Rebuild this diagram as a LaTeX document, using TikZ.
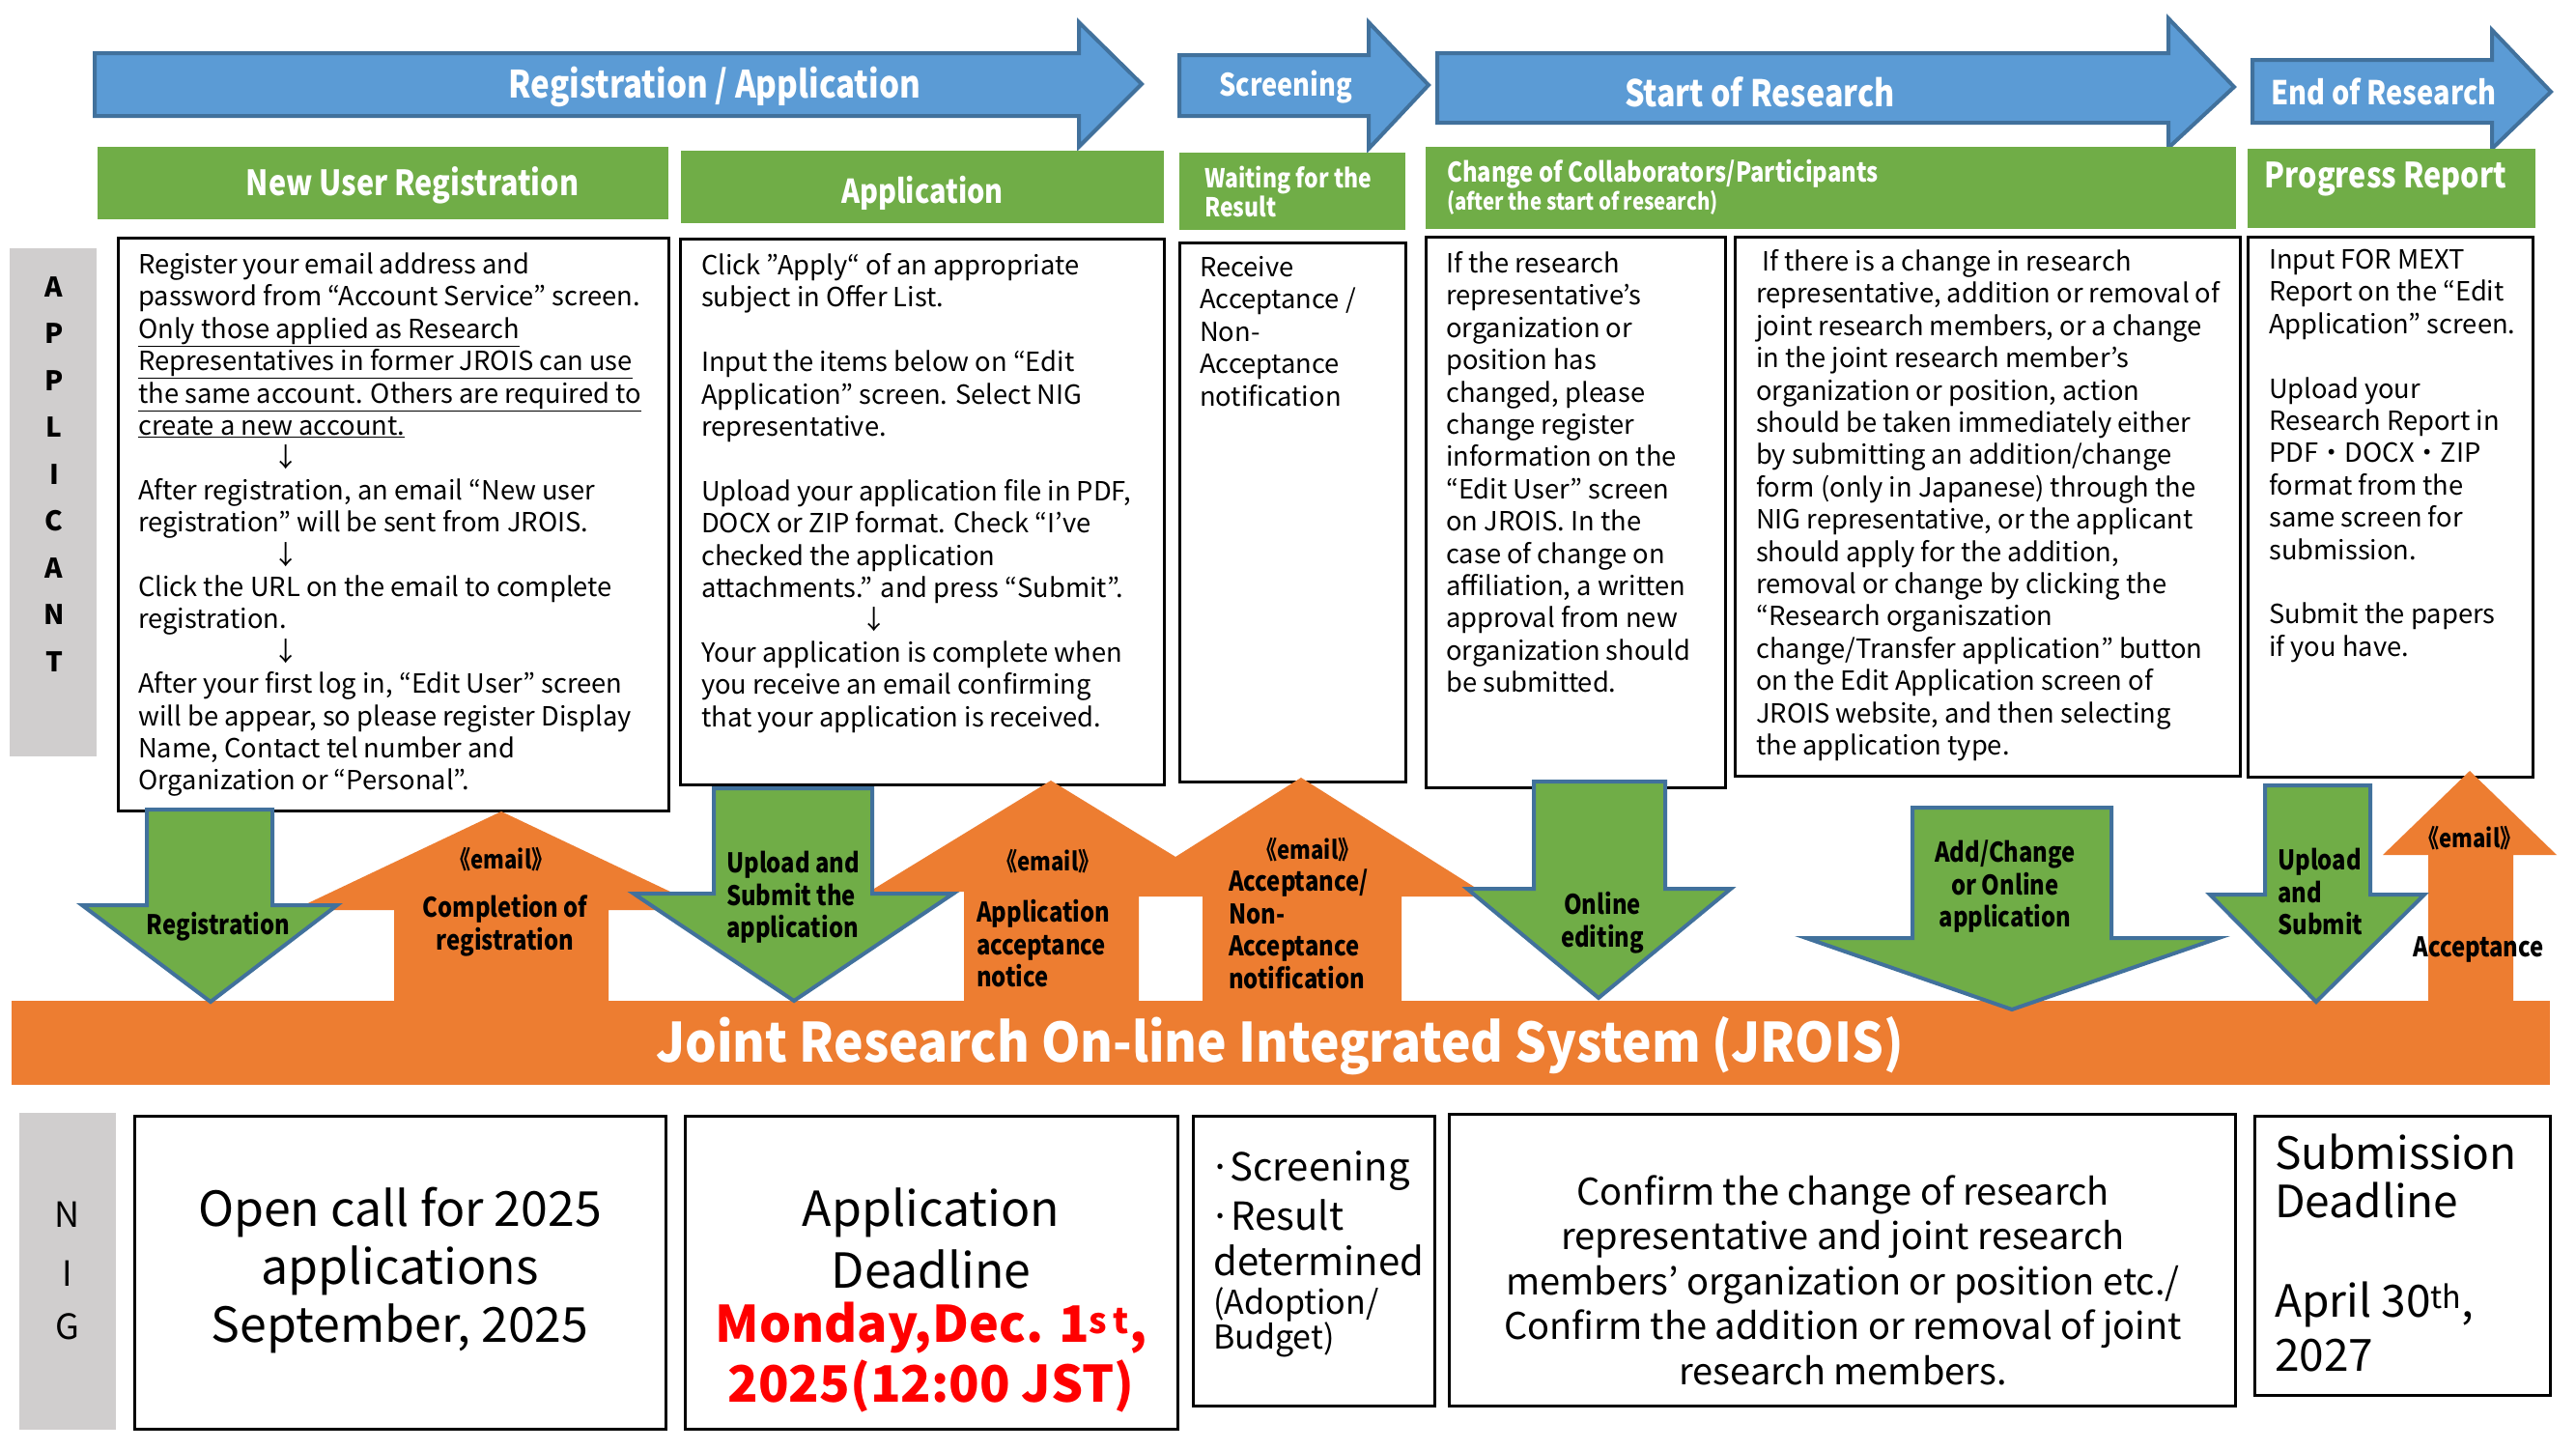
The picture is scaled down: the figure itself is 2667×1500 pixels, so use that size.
\documentclass[tikz,border=0pt]{standalone}
\usepackage{fontspec}
\setmainfont{Noto Sans CJK JP}
\newfontfamily\cond[FakeStretch=0.85]{Noto Sans CJK JP}
\newfontfamily\semi[FakeStretch=0.92]{Noto Sans CJK JP}
\definecolor{ogr}{HTML}{70AD47}
\definecolor{oor}{HTML}{ED7D31}
\definecolor{obl}{HTML}{5B9BD5}
\definecolor{obd}{HTML}{41719C}
\definecolor{grayb}{HTML}{D0CECE}
\definecolor{redt}{HTML}{FF0000}
\newcommand{\fsz}[2]{\fontsize{#1}{#2}\selectfont}
\tikzset{
 tbox/.style={draw=black, line width=3pt, fill=white},
 gbar/.style={fill=grayb},
 ghead/.style={fill=ogr},
 barrow/.style={fill=obl, draw=obd, line width=4pt},
 garrow/.style={fill=ogr, draw=obd, line width=4pt},
 oarrow/.style={fill=oor},
 htext/.style={inner sep=0, text=white, font=\cond\bfseries},
 body/.style={inner sep=0, anchor=north west, align=left, font=\fsz{27.3}{33.4}},
 albl/.style={inner sep=0, font=\cond\bfseries\fsz{28}{33.5}},
 big/.style={inner sep=0, font=\fsz{50}{60}},
}
\begin{document}
\begin{tikzpicture}[x=1pt,y=-1pt]
\useasboundingbox (0,0) rectangle (2667,1500);
\fill[white] (0,0) rectangle (2667,1500);

% ---------- top blue arrows ----------
\draw[barrow] (98,55) -- (1117,55) -- (1117,23) -- (1182,87) -- (1117,152) -- (1117,120) -- (98,120) -- cycle;
\draw[barrow] (1221,57) -- (1417,57) -- (1417,23) -- (1479,88) -- (1417,154) -- (1417,120) -- (1221,120) -- cycle;
\draw[barrow] (1488,55) -- (2245,55) -- (2245,19) -- (2313,90) -- (2245,153) -- (2245,127) -- (1488,127) -- cycle;
\draw[barrow] (2332,62) -- (2580,62) -- (2580,31) -- (2641,95) -- (2580,154) -- (2580,127) -- (2332,127) -- cycle;
\node[htext, font=\cond\bfseries\fsz{39}{40}] (t1) at (740,90) {Registration / Application};
\node[htext, font=\cond\bfseries\fsz{32}{34}] (t2) at (1331,90) {Screening};
\node[htext, font=\cond\bfseries\fsz{38}{40}] (t3) at (1822,95) {Start of Research};
\node[htext, font=\cond\bfseries\fsz{34}{36}] (t4) at (2468,95) {End of Research};

% ---------- green headers ----------
\fill[ghead] (101,152) rectangle (692,227);
\fill[ghead] (705,156) rectangle (1205,231);
\fill[ghead] (1221,158) rectangle (1455,238);
\fill[ghead] (1476,152) rectangle (2315,237);
\fill[ghead] (2327,154) rectangle (2625,236);
\node[htext, font=\cond\bfseries\fsz{36}{38}] (h1) at (427,192) {New User Registration};
\node[htext, font=\cond\bfseries\fsz{34}{36}] (h2) at (955,200) {Application};
\node[htext, font=\cond\bfseries\fsz{27}{30}, anchor=west, align=left] (h3) at (1247,198) {Waiting for the\\Result};
\node[htext, font=\cond\bfseries\fsz{28}{30}, anchor=west] (h4a) at (1498,180) {Change of Collaborators/Participants};
\node[htext, font=\cond\bfseries\fsz{24}{26}, anchor=west] (h4b) at (1498,210) {(after the start of research)};
\node[htext, font=\cond\bfseries\fsz{36}{38}] (h5) at (2470,185) {Progress Report};

% ---------- applicant bar ----------
\fill[gbar] (10,257) rectangle (100,783);
\foreach \l [count=\i from 0] in {A,P,P,L,I,C,A,N,T}{
  \node[inner sep=0, font=\bfseries\fsz{28}{30}] (ap\i) at (56,297+48.5*\i) {\l};
}

% ---------- text boxes ----------
\draw[tbox] (122,246) rectangle (692,839);
\draw[tbox] (704,247) rectangle (1205,812);
\draw[tbox] (1221,251) rectangle (1455,809);
\draw[tbox] (1476,245) rectangle (1786,815);
\draw[tbox] (1796,245) rectangle (2319,803);
\draw[tbox] (2327,245) rectangle (2622,804);

\node[body] (b1) at (143,260) {\strut Register your email address and\\
password from “Account Service” screen.\\
\underline{Only those applied as Research}\\
\underline{Representatives in former JROIS can use}\\
\underline{the same account. Others are required to}\\
\underline{create a new account.}\\
\hspace*{139pt}↓\\
After registration, an email “New user\\
registration” will be sent from JROIS.\\
\hspace*{139pt}↓\\
Click the URL on the email to complete\\
registration.\\
\hspace*{139pt}↓\\
After your first log in, “Edit User” screen\\
will be appear, so please register Display\\
Name, Contact tel number and\\
Organization or “Personal”.};

\node[body] (b2) at (726,261) {\strut Click "Apply“ of an appropriate\\
subject in Offer List.\\
\mbox{}\\
Input the items below on “Edit\\
Application” screen. Select NIG\\
representative.\\
\mbox{}\\
Upload your application file in PDF,\\
DOCX or ZIP format. Check “I’ve\\
checked the application\\
attachments.” and press “Submit”.\\
\hspace*{165pt}↓\\
Your application is complete when\\
you receive an email confirming\\
that your application is received.};

\node[body] (b3) at (1242,263) {\strut Receive\\
Acceptance /\\
Non-\\
Acceptance\\
notification};

\node[body] (b4) at (1497,259) {\strut If the research\\
representative’s\\
organization or\\
position has\\
changed, please\\
change register\\
information on the\\
“Edit User” screen\\
on JROIS. In the\\
case of change on\\
affiliation, a written\\
approval from new\\
organization should\\
be submitted.};

\node[body] (b5) at (1818,257) {\strut\hspace*{6pt}If there is a change in research\\
representative, addition or removal of\\
joint research members, or a change\\
in the joint research member’s\\
organization or position, action\\
should be taken immediately either\\
by submitting an addition/change\\
form (only in Japanese) through the\\
NIG representative, or the applicant\\
should apply for the addition,\\
removal or change by clicking the\\
“Research organiszation\\
change/Transfer application” button\\
on the Edit Application screen of\\
JROIS website, and then selecting\\
the application type.};

\node[body] (b6) at (2349,255) {\strut Input FOR MEXT\\
Report on the “Edit\\
Application” screen.\\
\mbox{}\\
Upload your\\
Research Report in\\
PDF・DOCX・ZIP\\
format from the\\
same screen for\\
submission.\\
\mbox{}\\
Submit the papers\\
if you have.};

% ---------- JROIS bar ----------
\fill[oarrow] (12,1036) rectangle (2640,1123);

% orange up arrows
\fill[oarrow] (408,1040) -- (408,942) -- (304,942) -- (519,840) -- (734,942) -- (630,942) -- (630,1040) -- cycle;
\fill[oarrow] (998,1040) -- (998,923) -- (900,923) -- (1088,808) -- (1276,923) -- (1179,923) -- (1179,1040) -- cycle;
\fill[oarrow] (1245,1040) -- (1245,928) -- (1152,928) -- (1347,805) -- (1542,928) -- (1451,928) -- (1451,1040) -- cycle;
\fill[oarrow] (2514,1040) -- (2514,885) -- (2467,885) -- (2557,798) -- (2647,885) -- (2602,885) -- (2602,1040) -- cycle;

% green down arrows
\draw[garrow] (152,838) -- (282,838) -- (282,937) -- (349,937) -- (218,1037) -- (85,937) -- (152,937) -- cycle;
\draw[garrow] (739,816) -- (903,816) -- (903,925) -- (987,925) -- (822,1036) -- (656,925) -- (739,925) -- cycle;
\draw[garrow] (1588,809) -- (1724,809) -- (1724,920) -- (1792,920) -- (1655,1033) -- (1519,920) -- (1588,920) -- cycle;
\draw[garrow] (1980,836) -- (2186,836) -- (2186,971) -- (2297,971) -- (2083,1045) -- (1870,971) -- (1980,971) -- cycle;
\draw[garrow] (2345,813) -- (2454,813) -- (2454,926) -- (2510,926) -- (2398,1037) -- (2288,926) -- (2345,926) -- cycle;

\node[inner sep=0, text=white, font=\semi\bfseries\fsz{56}{60}] (jrois) at (1325,1083) {Joint Research On-line Integrated System (JROIS)};

% arrow labels
\node[albl] (l1) at (226,959) {Registration};
\node[albl, font=\cond\bfseries\fsz{26}{30}] (e1) at (519,890) {《email》};
\node[albl, align=center] (l2) at (523,958) {Completion of\\registration};
\node[albl, align=left, anchor=west] (l3) at (752,929) {Upload and\\Submit the\\application};
\node[albl, font=\cond\bfseries\fsz{26}{30}] (e2) at (1085,892) {《email》};
\node[albl, align=left, anchor=west] (l4) at (1011,977) {Application\\acceptance\\notice};
\node[albl, font=\cond\bfseries\fsz{26}{30}] (e3) at (1354,880) {《email》};
\node[albl, align=left, anchor=west] (l5) at (1272,962) {Acceptance/\\Non-\\Acceptance\\notification};
\node[albl, align=center] (l6) at (1659,955) {Online\\editing};
\node[albl, align=center] (l7) at (2076,918) {Add/Change\\or Online\\application};
\node[albl, align=left, anchor=west] (l8) at (2358,923) {Upload\\and\\Submit};
\node[albl, font=\cond\bfseries\fsz{26}{30}] (e4) at (2557,868) {《email》};
\node[albl] (l9) at (2566,983) {Acceptance};

% ---------- NIG row ----------
\fill[gbar] (20,1152) rectangle (120,1480);
\node[inner sep=0, font=\fsz{36}{38}] (n1) at (70,1257) {N};
\node[inner sep=0, font=\fsz{36}{38}] (n2) at (70,1318) {I};
\node[inner sep=0, font=\fsz{36}{38}] (n3) at (70,1373) {G};

\draw[tbox] (139,1155) rectangle (689,1479);
\draw[tbox] (709,1155) rectangle (1219,1479);
\draw[tbox] (1235,1155) rectangle (1485,1455);
\draw[tbox] (1500,1153) rectangle (2314,1455);
\draw[tbox] (2334,1155) rectangle (2640,1444);

\node[big, align=center] (c1) at (414,1315) {Open call for 2025\\applications\\September, 2025};
\node[big] (c2a) at (964,1255) {Application};
\node[big] (c2b) at (964,1314) {Deadline};
\node[big, text=redt, font=\bfseries\fsz{52}{60}] (c2c) at (964,1375) {Monday,Dec. 1\textsuperscript{s\,t},};
\node[big, text=redt, font=\bfseries\fsz{52}{60}] (c2d) at (964,1435) {2025(12:00 JST)};

\node[inner sep=0, anchor=west, font=\fsz{40}{46}] (c3a) at (1252,1212) {·Screening};
\node[inner sep=0, anchor=west, font=\fsz{40}{46}] (c3b) at (1252,1258) {·Result};
\node[inner sep=0, anchor=west, font=\fsz{40}{46}] (c3c) at (1256,1305) {determined};
\node[inner sep=0, anchor=west, font=\fsz{34}{40}] (c3d) at (1256,1350) {(Adoption/};
\node[inner sep=0, anchor=west, font=\fsz{34}{40}] (c3e) at (1256,1387) {Budget)};

\node[inner sep=0, align=center, font=\fsz{38}{46.5}] (c4) at (1908,1325) {Confirm the change of research\\representative and joint research\\members' organization or position etc./\\Confirm the addition or removal of joint\\research members.};

\node[inner sep=0, anchor=west, font=\fsz{46}{50}] (c5a) at (2355,1192) {Submission};
\node[inner sep=0, anchor=west, font=\fsz{46}{50}] (c5b) at (2355,1242) {Deadline};
\node[inner sep=0, anchor=west, font=\fsz{46}{50}] (c5c) at (2355,1350) {April 30\textsuperscript{th},};
\node[inner sep=0, anchor=west, font=\fsz{46}{50}] (c5d) at (2355,1403) {2027};
\end{tikzpicture}
\end{document}
